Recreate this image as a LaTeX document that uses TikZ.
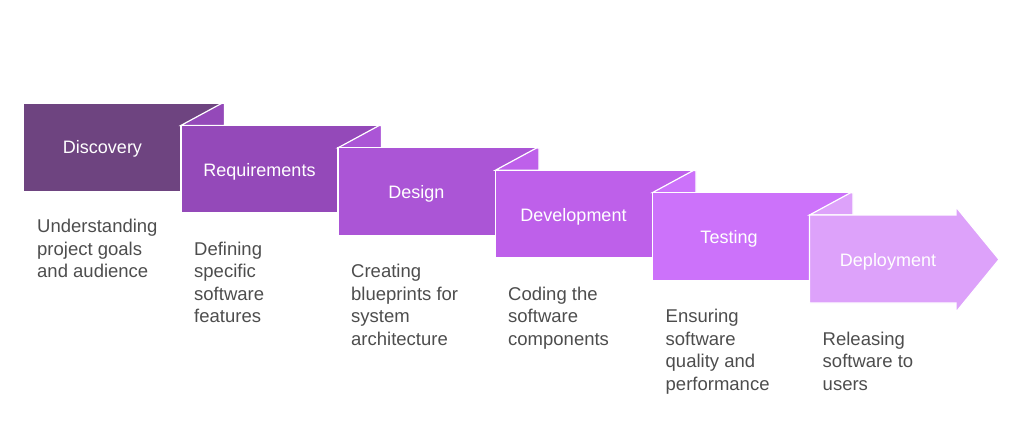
\documentclass[tikz,border=0pt]{standalone}
\usepackage{fontspec}
\setmainfont{Liberation Sans}
\definecolor{c0}{HTML}{6E4480}
\definecolor{c1}{HTML}{9449B9}
\definecolor{c2}{HTML}{AB55D6}
\definecolor{c3}{HTML}{BE60EA}
\definecolor{c4}{HTML}{CC72FA}
\definecolor{c5}{HTML}{DDA2FA}
\definecolor{desctext}{HTML}{4D4D4D}
\tikzset{
  stage/.style={draw=white, line width=1.2pt, line join=miter},
  title/.style={text=white, font=\fontsize{18}{22}\selectfont, anchor=base, inner sep=0pt},
  descr/.style={text=desctext, font=\fontsize{18.5}{22.5}\selectfont, align=left, anchor=north west, inner sep=0pt}
}
\begin{document}
\begin{tikzpicture}[x=1pt,y=-1pt]
\useasboundingbox (0,0) rectangle (1024,440);
% Discovery
\fill[c0] (24,103) rectangle (224,190.5);
\draw[white, line width=1pt] (24,103) -- (222,103);
% Requirements
\filldraw[stage, fill=c1] (181,125.4) -- (222,103.2) -- (224.5,103.2) -- (224.5,125.4) -- cycle;
\filldraw[stage, fill=c1] (181,125.4) rectangle (381,212.9);
% Design
\filldraw[stage, fill=c2] (338,147.8) -- (379,125.6) -- (381.5,125.6) -- (381.5,147.8) -- cycle;
\filldraw[stage, fill=c2] (338,147.8) rectangle (538,235.3);
% Development
\filldraw[stage, fill=c3] (495.5,170.2) -- (536.5,148) -- (539,148) -- (539,170.2) -- cycle;
\filldraw[stage, fill=c3] (495.5,170.2) rectangle (695.5,257.7);
% Testing
\filldraw[stage, fill=c4] (652.5,192.6) -- (693.5,170.4) -- (696,170.4) -- (696,192.6) -- cycle;
\filldraw[stage, fill=c4] (652.5,192.6) rectangle (852.5,280.1);
% Deployment
\filldraw[stage, fill=c5] (809.5,215) -- (850.5,192.8) -- (853,192.8) -- (853,215) -- cycle;
\filldraw[stage, fill=c5] (809.5,215) -- (956,215) -- (956,207) -- (999,259.5) -- (956,312) -- (956,303) -- (809.5,303) -- cycle;
% titles
\node[title] (t0) at (102.5,153.5) {Discovery};
\node[title] (t1) at (259.5,176) {Requirements};
\node[title] (t2) at (416.5,198.5) {Design};
\node[title] (t3) at (573.5,221) {Development};
\node[title] (t4) at (729,243.5) {Testing};
\node[title] (t5) at (888,266) {Deployment};
% descriptions
\node[descr] (d0) at (37,219) {Understanding\\project goals\\and audience};
\node[descr] (d1) at (194,241.5) {Defining\\specific\\software\\features};
\node[descr] (d2) at (351,264) {Creating\\blueprints for\\system\\architecture};
\node[descr] (d3) at (508,286.5) {Coding the\\software\\components};
\node[descr] (d4) at (665.5,309) {Ensuring\\software\\quality and\\performance};
\node[descr] (d5) at (822.5,331.5) {Releasing\\software to\\users};
\end{tikzpicture}
\end{document}
